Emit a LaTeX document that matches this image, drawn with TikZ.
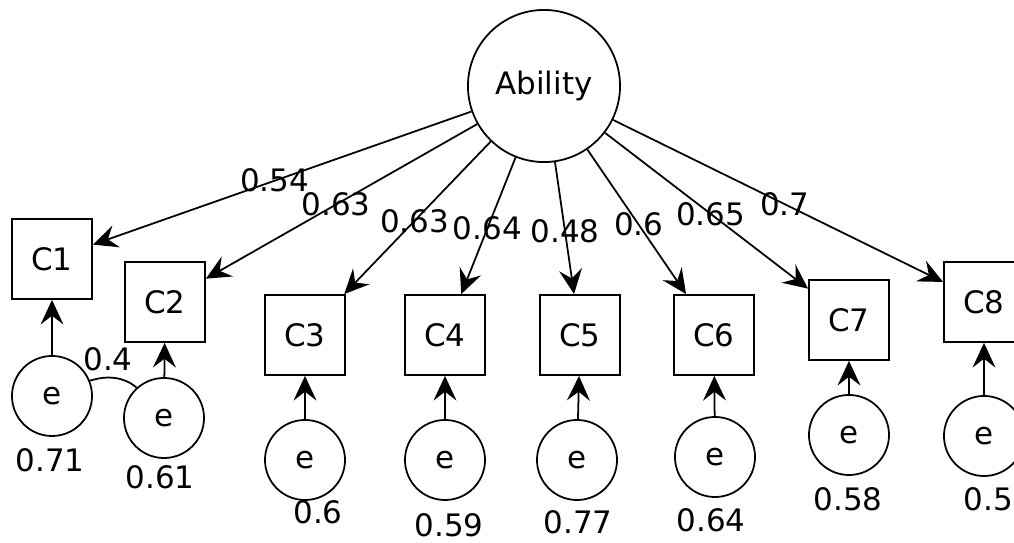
\documentclass[tikz,border=0pt]{standalone}
\usepackage{fontspec}
\setmainfont{DejaVu Sans}
\usepackage{tikz}
\usetikzlibrary{arrows.meta}

\begin{document}
\begin{tikzpicture}[x=0.01cm,y=-0.01cm,line width=0.5pt,font=\fontsize{8.8}{10}\selectfont,
  >={Stealth[length=7pt,width=6.5pt,inset=2.5pt]}]
\tikzstyle{latent}=[circle, draw, minimum size=1.52cm, inner sep=0pt]
\tikzstyle{obs}=[rectangle, draw, minimum size=0.8cm, inner sep=0pt]
\tikzstyle{err}=[circle, draw, minimum size=0.8cm, inner sep=0pt]
\useasboundingbox (0,0) rectangle (1014,543);
\clip (0,0) rectangle (1014,543);
\node[latent] (A) at (544,86) {Ability};
% indicators
\node[obs] (C1) at (52,259) {C1};
\node[obs] (C2) at (165,302) {C2};
\node[obs] (C3) at (305,335) {C3};
\node[obs] (C4) at (445,335) {C4};
\node[obs] (C5) at (580,335) {C5};
\node[obs] (C6) at (714,335) {C6};
\node[obs] (C7) at (849,320) {C7};
\node[obs] (C8) at (984,302) {C8};
% errors
\node[err] (e1) at (52,396) {e};
\node[err] (e2) at (164,418) {e};
\node[err] (e3) at (305,460) {e};
\node[err] (e4) at (445,460) {e};
\node[err] (e5) at (577,460) {e};
\node[err] (e6) at (715,457) {e};
\node[err] (e7) at (849,435) {e};
\node[err] (e8) at (984,436) {e};
% error variances
\node (v1) at (50,460) {0.71};
\node (v2) at (160,477) {0.61};
\node (v3) at (318,512) {0.6};
\node (v4) at (449,525) {0.59};
\node (v5) at (578,522) {0.77};
\node (v6) at (711,520) {0.64};
\node (v7) at (848,499) {0.58};
\node[anchor=west,inner sep=0pt] (v8) at (963,499) {0.5};
\foreach \c/\w in {C1/0.54,C2/0.63,C3/0.63,C4/0.64,C5/0.48,C6/0.6,C7/0.65,C8/0.7}{\draw[->] (A) -- node[pos=0.52] (l\c) {\w} (\c);}
\foreach \i in {1,...,8}{\draw[->] (e\i) -- (C\i);}
\draw (e1.22) .. controls (108,375) and (124,377) .. (e2.132);
\node (cov) at (108,359) {0.4};
\end{tikzpicture}
\end{document}
